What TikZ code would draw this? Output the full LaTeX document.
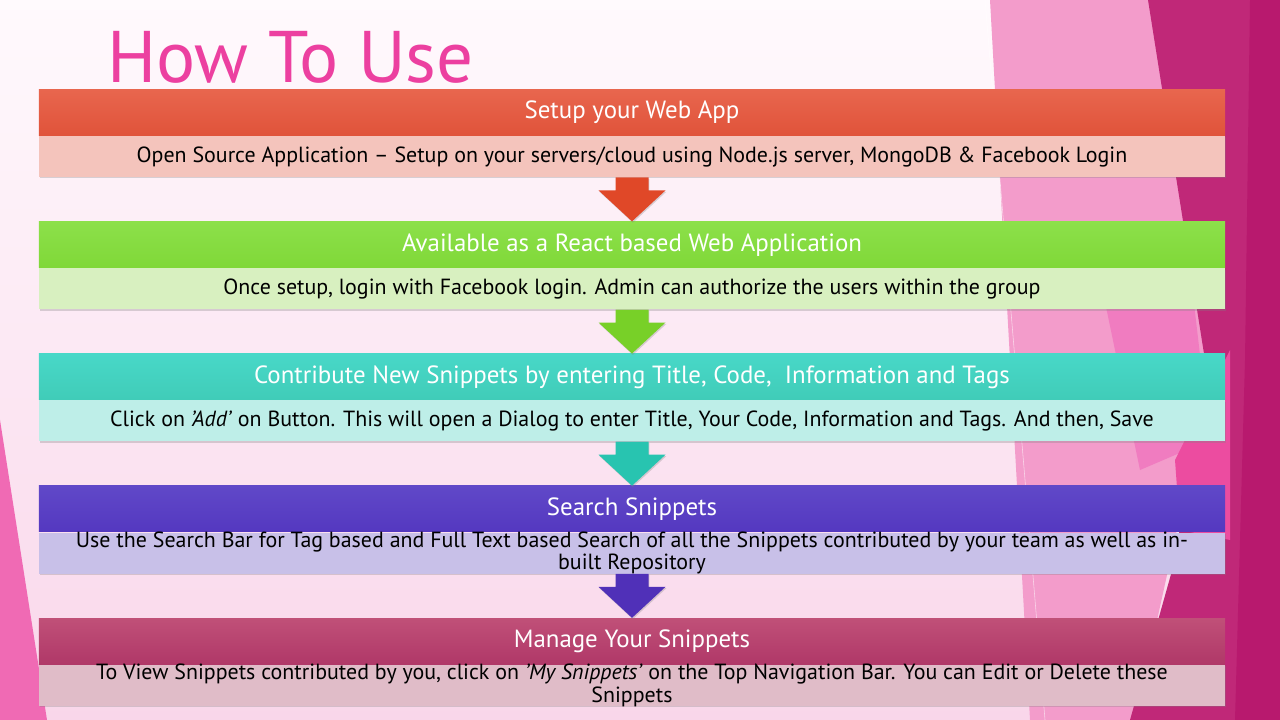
\documentclass[tikz,border=0pt]{standalone}
\usepackage{fontspec}
\setmainfont{PT Sans}
\usetikzlibrary{positioning,calc,shadows}
\definecolor{SnipTitle}{HTML}{EC40A0}
\definecolor{SnipBgTop}{HTML}{FFFAFD}
\definecolor{SnipBgBot}{HTML}{F9D6EA}
\definecolor{SnipRedTop}{HTML}{E8664E}
\definecolor{SnipRedBot}{HTML}{E0533A}
\definecolor{SnipRedLight}{HTML}{F4C4BC}
\definecolor{SnipRedArrow}{HTML}{E04828}
\definecolor{SnipGreenTop}{HTML}{8CE04A}
\definecolor{SnipGreenBot}{HTML}{80D838}
\definecolor{SnipGreenLight}{HTML}{D8F0C0}
\definecolor{SnipGreenArrow}{HTML}{78D028}
\definecolor{SnipTealTop}{HTML}{48D8C8}
\definecolor{SnipTealBot}{HTML}{40CCB8}
\definecolor{SnipTealLight}{HTML}{BEEEE8}
\definecolor{SnipTealArrow}{HTML}{28C4B0}
\definecolor{SnipBlueTop}{HTML}{6048C8}
\definecolor{SnipBlueBot}{HTML}{5438C0}
\definecolor{SnipBlueLight}{HTML}{C8C0E8}
\definecolor{SnipBlueArrow}{HTML}{5030B8}
\definecolor{SnipRoseTop}{HTML}{C05078}
\definecolor{SnipRoseBot}{HTML}{B03868}
\definecolor{SnipRoseLight}{HTML}{E0BCC8}
\definecolor{FacetPink}{HTML}{F39CCB}
\definecolor{FacetMid}{HTML}{F07CC0}
\definecolor{FacetHot}{HTML}{EC4CA0}
\definecolor{FacetMagenta}{HTML}{C02878}
\definecolor{FacetDark}{HTML}{B8196E}
\definecolor{FacetLeft}{HTML}{F06AB4}
\tikzset{
    % Header bar of a step
    headbar/.style 2 args={
        top color=#1,
        bottom color=#2,
        draw=none,
        minimum width=29.65cm,
        minimum height=1.15cm,
        inner sep=0pt,
        text=white,
        font=\fontsize{17.7}{20}\selectfont
    },
    % Description bar under a header
    descbar/.style={
        fill=#1,
        draw=none,
        minimum width=29.65cm,
        minimum height=1.025cm,
        inner sep=0pt,
        align=center,
        text=black,
        font=\fontsize{15.6}{16}\selectfont,
        drop shadow={shadow xshift=0.6pt, shadow yshift=-1pt, opacity=0.3}
    },
    % Block arrow between steps
    flowarrow/.style={
        fill=#1,
        drop shadow={shadow xshift=0.6pt, shadow yshift=-1pt, opacity=0.3}
    },
    % Title text
    titletext/.style={
        text=SnipTitle,
        inner sep=0pt,
        font=\fontsize{52}{60}\selectfont
    }
}
% Two lines that may overflow their bar
\newcommand{\twolines}[1]{\parbox[c][18pt][c]{29.5cm}{\centering #1}}
% Block arrow from the bottom of one bar to the top of the next
\newcommand{\steparrow}[3]{%
    \fill[flowarrow=#1] ($(#2.south)+(-16.5,0)$) -- ++(33,0) -- ++(0,13)
        -- ++(17,0) -- (#3.north) -- ($(#2.south)+(-33.5,13)$) -- ++(17,0) -- cycle;
}
\begin{document}
\begin{tikzpicture}[x=0.025cm, y=-0.025cm]
    % Background
    \shade[top color=SnipBgTop, bottom color=SnipBgBot] (0,0) rectangle (1280,720);
    \useasboundingbox (0,0) rectangle (1280,720);

    % Facets
    \fill[FacetLeft] (0,420) -- (47,720) -- (0,720) -- cycle;
    \fill[FacetPink] (990,0) -- (1150,0) -- (1210,380) -- (1135,720) -- (1030,720) -- cycle;
    \fill[FacetMid] (1090,230) -- (1190,270) -- (1210,440) -- (1140,470) -- cycle;
    \fill[FacetMagenta] (1148,0) -- (1280,0) -- (1280,720) -- (1130,720) -- (1175,560) -- (1205,360) -- cycle;
    \fill[FacetHot] (1175,460) -- (1230,350) -- (1230,540) -- (1180,530) -- cycle;
    \fill[FacetDark] (1250,0) -- (1280,0) -- (1280,720) -- (1235,720) -- (1245,360) -- cycle;
    \draw[white, opacity=0.6, line width=0.4pt] (985,0) -- (1045,720);

    % Title
    \node[titletext, anchor=base west] (title) at (107,83) {How To Use};

    % Setup step
    \node[headbar={SnipRedTop}{SnipRedBot}] (h1) at (632,112.5) {Setup your Web App};
    \node[descbar=SnipRedLight, below=0pt of h1] (d1) {Open Source Application – Setup on your servers/cloud using Node.js server, MongoDB \& Facebook Login};

    % Web application step
    \node[headbar={SnipGreenTop}{SnipGreenBot}, below=1.1cm of d1] (h2) {Available as a React based Web Application};
    \node[descbar=SnipGreenLight, below=0pt of h2] (d2) {Once setup, login with Facebook login. Admin can authorize the users within the group};

    % Contribute step
    \node[headbar={SnipTealTop}{SnipTealBot}, below=1.1cm of d2] (h3) {Contribute New Snippets by entering Title, Code,\ \ Information and Tags};
    \node[descbar=SnipTealLight, below=0pt of h3] (d3) {Click on \textit{’Add’} on Button. This will open a Dialog to enter Title, Your Code, Information and Tags. And then, Save};

    % Search step
    \node[headbar={SnipBlueTop}{SnipBlueBot}, below=1.1cm of d3] (h4) {Search Snippets};
    \node[descbar=SnipBlueLight, below=0pt of h4] (d4) {\twolines{Use the Search Bar for Tag based and Full Text based Search of all the Snippets contributed by your team as well as in-\\built Repository}};

    % Manage step
    \node[headbar={SnipRoseTop}{SnipRoseBot}, below=1.1cm of d4] (h5) {Manage Your Snippets};
    \node[descbar=SnipRoseLight, below=0pt of h5] (d5) {\twolines{To View Snippets contributed by you, click on \textit{’My Snippets’} on the Top Navigation Bar. You can Edit or Delete these\\Snippets}};

    % Arrows
    \steparrow{SnipRedArrow}{d1}{h2}
    \steparrow{SnipGreenArrow}{d2}{h3}
    \steparrow{SnipTealArrow}{d3}{h4}
    \steparrow{SnipBlueArrow}{d4}{h5}
\end{tikzpicture}
\end{document}
